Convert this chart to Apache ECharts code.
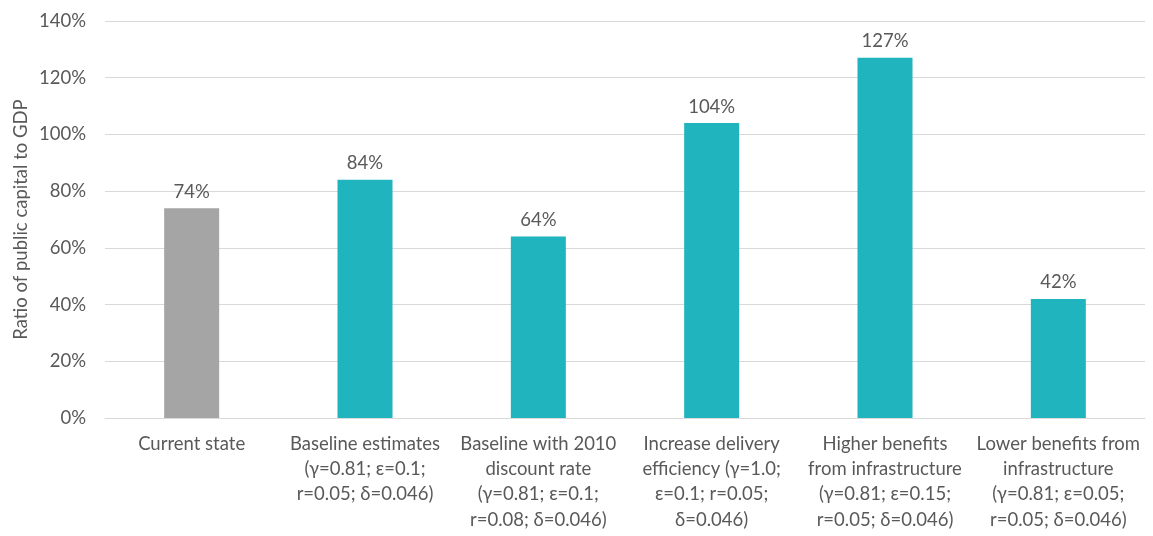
<!DOCTYPE html>
<html>
<head>
<meta charset="utf-8">
<script src="https://cdn.jsdelivr.net/npm/echarts@6/dist/echarts.min.js"></script>
<style>
  html, body { margin: 0; padding: 0; background: #fff; }
  #chart { width: 1153px; height: 536px; }
</style>
</head>
<body>
<div id="chart"></div>
<script>
// Scenario names shown under each bar
const categories = [
  'Current state',
  'Baseline estimates\n(γ=0.81; ε=0.1;\nr=0.05; δ=0.046)',
  'Baseline with 2010\ndiscount rate\n(γ=0.81; ε=0.1;\nr=0.08; δ=0.046)',
  'Increase delivery\nefficiency (γ=1.0;\nε=0.1; r=0.05;\nδ=0.046)',
  'Higher benefits\nfrom infrastructure\n(γ=0.81; ε=0.15;\nr=0.05; δ=0.046)',
  'Lower benefits from\ninfrastructure\n(γ=0.81; ε=0.05;\nr=0.05; δ=0.046)'
];
// Ratio of public capital to GDP, in percent
const ratioValues = [74, 84, 64, 104, 127, 42];
// Value axis ticks, in percent
const yTicks = [0, 20, 40, 60, 80, 100, 120, 140];

const currentColor = '#A5A5A5';
const scenarioColor = '#20B4BE';
const textColor = '#595959';
const fontFamily = 'Lato, "Open Sans", sans-serif';
const fontSize = 18.5;

const chart = echarts.init(document.getElementById('chart'));
chart.setOption({
  animation: false,
  textStyle: { fontFamily: fontFamily },
  grid: { left: 105, right: 8, top: 21, bottom: 118, containLabel: false },
  xAxis: {
    type: 'category',
    data: categories,
    axisTick: { show: false },
    axisLine: { lineStyle: { color: '#D9D9D9' } },
    axisLabel: {
      interval: 0,
      color: textColor,
      fontSize: fontSize,
      lineHeight: 25.3,
      margin: 13,
      fontFamily: fontFamily
    }
  },
  yAxis: {
    type: 'value',
    min: yTicks[0],
    max: yTicks[yTicks.length - 1],
    interval: yTicks[1] - yTicks[0],
    name: 'Ratio of public capital to GDP',
    nameLocation: 'middle',
    nameGap: 74,
    nameMoveOverlap: false,
    nameTextStyle: { color: textColor, fontSize: fontSize, fontFamily: fontFamily },
    axisLine: { show: false },
    axisTick: { show: false },
    splitLine: { lineStyle: { color: '#D9D9D9' } },
    axisLabel: {
      color: textColor,
      fontSize: fontSize,
      margin: 19,
      formatter: v => v + '%'
    }
  },
  series: [{
    type: 'bar',
    barWidth: 55,
    data: ratioValues.map((v, i) => ({
      value: v,
      itemStyle: { color: i === 0 ? currentColor : scenarioColor }
    })),
    label: {
      show: true,
      position: 'top',
      distance: 7,
      color: textColor,
      fontSize: fontSize,
      formatter: p => p.value + '%'
    }
  }]
});
</script>
</body>
</html>
